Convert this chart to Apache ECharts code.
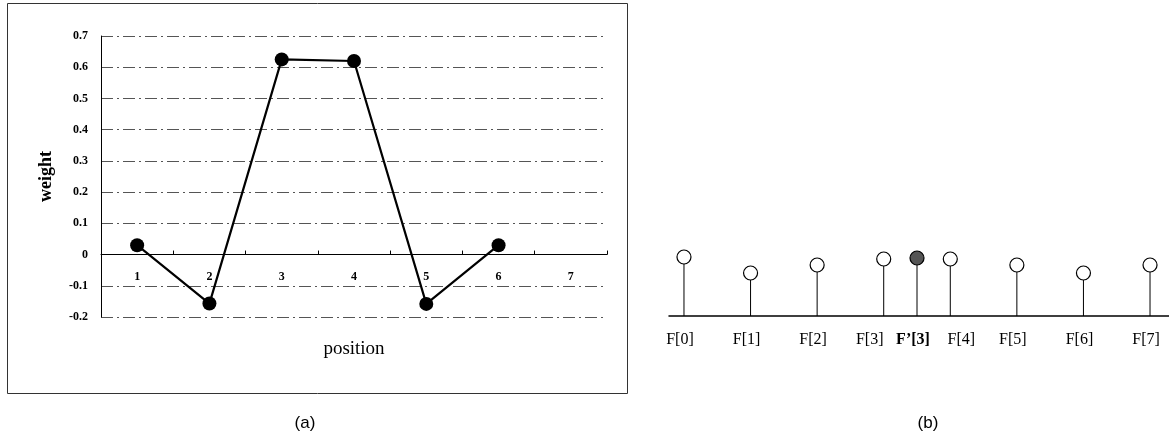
<!DOCTYPE html>
<html>
<head>
<meta charset="utf-8">
<script src="https://cdn.jsdelivr.net/npm/echarts@6/dist/echarts.min.js"></script>
<style>
  html, body { margin: 0; padding: 0; background: #fff; }
  #chart { width: 1169px; height: 437px; }
</style>
</head>
<body>
<div id="chart"></div>
<script>
// ---- Panel (a) data ----
const positions = ['1', '2', '3', '4', '5', '6', '7'];
const weights = [0.03, -0.157, 0.625, 0.62, -0.158, 0.03, null];
const weightTicks = { min: -0.2, max: 0.7, interval: 0.1 };

// ---- Panel (b) data ----
const stemLabels = ['F[0]', 'F[1]', 'F[2]', 'F[3]', 'F\u2019[3]', 'F[4]', 'F[5]', 'F[6]', 'F[7]'];
const stemX = [0, 1, 2, 3, 3.5, 4, 5, 6, 7];
const stemValues = [0.59, 0.43, 0.51, 0.57, 0.58, 0.57, 0.51, 0.43, 0.51];
const stemHighlighted = [false, false, false, false, true, false, false, false, false];

// ---- styling for panel (b) labels (pixel nudges) ----
const labelNudge = [-4, -4, -4, -14, -4, 11, -4, -4, -4];

const serif = '"Liberation Serif", "DejaVu Serif", serif';
const sans = '"Liberation Sans", Arial, sans-serif';

const stemData = stemX.map((x, i) => [x, stemValues[i], i]);

const chart = echarts.init(document.getElementById('chart'), null, { renderer: 'canvas' });

chart.setOption({
  animation: false,
  backgroundColor: '#fff',
  grid: [
    { left: 101, top: 36, width: 506, height: 281, containLabel: false },
    { left: 669, top: 216, width: 500, height: 100, containLabel: false }
  ],
  xAxis: [
    {
      gridIndex: 0,
      type: 'category',
      data: positions,
      boundaryGap: true,
      axisLine: { onZero: true, lineStyle: { color: '#000', width: 1 } },
      axisTick: { show: true, inside: true, length: 4, alignWithLabel: false, lineStyle: { color: '#000' } },
      axisLabel: { color: '#000', fontFamily: serif, fontWeight: 'bold', fontSize: 12, margin: -46 },
      splitLine: { show: false },
      name: 'position',
      nameLocation: 'middle',
      nameGap: 23,
      nameTextStyle: { color: '#000', fontFamily: serif, fontSize: 19 }
    },
    {
      gridIndex: 1,
      type: 'value',
      min: -0.225,
      max: 7.285,
      axisLine: { show: true, onZero: true, lineStyle: { color: '#000', width: 1.5 } },
      axisTick: { show: false },
      axisLabel: { show: false },
      splitLine: { show: false }
    }
  ],
  yAxis: [
    {
      gridIndex: 0,
      type: 'value',
      min: weightTicks.min,
      max: weightTicks.max,
      interval: weightTicks.interval,
      axisLine: { show: true, lineStyle: { color: '#000', width: 1 } },
      axisTick: { show: false },
      axisLabel: {
        color: '#000', fontFamily: serif, fontWeight: 'bold', fontSize: 12, margin: 13,
        formatter: v => (Math.abs(v) < 1e-9 ? '0' : (Math.round(v * 10) / 10).toString())
      },
      splitLine: { show: true, lineStyle: { color: '#555', width: 1, type: [12, 4, 2, 4] } },
      name: 'weight',
      nameLocation: 'middle',
      nameGap: 46,
      nameRotate: 90,
      nameTextStyle: { color: '#000', fontFamily: serif, fontWeight: 'bold', fontSize: 18 }
    },
    {
      gridIndex: 1,
      type: 'value',
      min: 0,
      max: 1,
      show: false
    }
  ],
  series: [
    {
      type: 'line',
      xAxisIndex: 0,
      yAxisIndex: 0,
      data: weights,
      connectNulls: false,
      lineStyle: { color: '#000', width: 2.2 },
      itemStyle: { color: '#000' },
      symbol: 'circle',
      symbolSize: 14,
      z: 5
    },
    {
      type: 'custom',
      xAxisIndex: 1,
      yAxisIndex: 1,
      data: stemData,
      renderItem: function (params, api) {
        const x = api.value(0), y = api.value(1), idx = api.value(2);
        const base = api.coord([x, 0]);
        const top = api.coord([x, y]);
        const r = 7;
        const filled = stemHighlighted[idx];
        return {
          type: 'group',
          children: [
            { type: 'line', shape: { x1: base[0], y1: base[1], x2: top[0], y2: top[1] + r },
              style: { stroke: '#000', lineWidth: 1 } },
            { type: 'circle', shape: { cx: top[0], cy: top[1], r: r },
              style: { fill: filled ? '#555' : '#fff', stroke: '#000', lineWidth: 1.2 } },
            { type: 'text', x: base[0] + labelNudge[idx], y: base[1] + 24,
              style: { text: stemLabels[idx], fill: '#000', align: 'center', verticalAlign: 'middle',
                       font: (filled ? 'bold ' : '') + '16px ' + serif } }
          ]
        };
      }
    }
  ],
  graphic: [
    { type: 'rect', shape: { x: 7.5, y: 3.5, width: 620, height: 390 },
      style: { fill: 'none', stroke: '#333', lineWidth: 1 }, z: -1 },
    { type: 'text', x: 305, y: 423,
      style: { text: '(a)', fill: '#000', font: '17px ' + sans, align: 'center', verticalAlign: 'middle' } },
    { type: 'text', x: 928, y: 423,
      style: { text: '(b)', fill: '#000', font: '17px ' + sans, align: 'center', verticalAlign: 'middle' } }
  ]
});
</script>
</body>
</html>
